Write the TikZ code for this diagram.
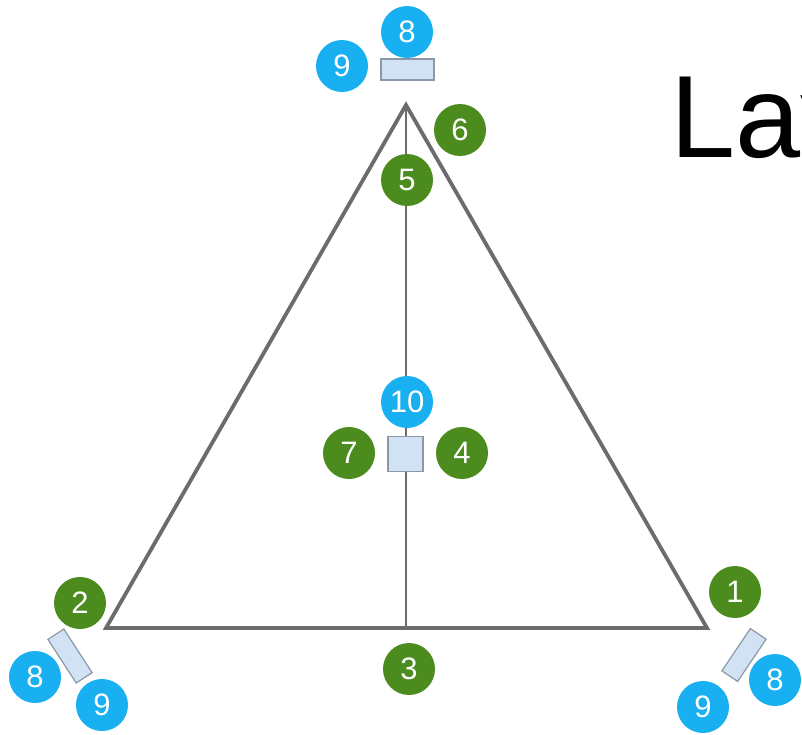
\documentclass[tikz,border=0pt]{standalone}
\usepackage{fontspec}
\setmainfont{Liberation Sans}
\definecolor{leafgreen}{RGB}{76,140,30}
\definecolor{skyblue}{RGB}{24,176,240}
\definecolor{padfill}{RGB}{208,226,243}
\definecolor{padedge}{RGB}{140,152,165}
\definecolor{frame}{RGB}{108,108,108}
\begin{document}
\begin{tikzpicture}[x=1pt,y=-1pt,
  badge/.style={circle,minimum size=52pt,inner sep=0pt,text=white,font=\fontsize{31}{31}\selectfont},
  gbadge/.style={badge,fill=leafgreen},
  bbadge/.style={badge,fill=skyblue},
  pad/.style={rectangle,draw=padedge,line width=1.2pt,fill=padfill,inner sep=0pt},
  edge/.style={draw=frame,line width=3.8pt,line join=miter},
  axis/.style={draw=frame,line width=2.4pt}]
\useasboundingbox (0,0) rectangle (802,734);
\clip (0,0) rectangle (802,734);

% triangle corners and the foot of the median
\coordinate (apex) at (406,105);
\coordinate (left) at (106,628);
\coordinate (right) at (707,628);
\coordinate (foot) at (406,628);

\path[edge] (apex) -- (left) -- (right) -- cycle;
\path[axis] (apex) -- (foot);

% heading, running off the right edge
\node[anchor=base west,inner sep=0pt,font=\fontsize{117}{117}\selectfont] (title) at (670,157) {Lay};

% top station
\node[pad,minimum width=53pt,minimum height=21pt] (padtop) at (407.5,69.5) {};
\node[bbadge] (t8) at (407,32) {8};
\node[bbadge] (t9) at (342,66) {9};
\node[gbadge] (n6) at (460,130) {6};
\node[gbadge] (n5) at (407,180) {5};

% centre station
\node[pad,minimum width=35pt,minimum height=35pt] (padmid) at (405.5,454) {};
\node[bbadge] (n10) at (407,402) {10};
\node[gbadge] (n7) at (349,453) {7};
\node[gbadge] (n4) at (462,453) {4};

% bottom-left station
\node[gbadge] (n2) at (80,603) {2};
\node[pad,minimum width=52pt,minimum height=19pt,rotate=-57] (padleft) at (70,656) {};
\node[bbadge] (l8) at (35,677) {8};
\node[bbadge] (l9) at (102,705) {9};

% bottom-right station
\node[gbadge] (n1) at (735,592) {1};
\node[pad,minimum width=51pt,minimum height=19pt,rotate=56] (padright) at (744,655) {};
\node[bbadge] (r8) at (775,680) {8};
\node[bbadge] (r9) at (703,707) {9};

% base midpoint
\node[gbadge] (n3) at (409,669) {3};
\end{tikzpicture}
\end{document}
